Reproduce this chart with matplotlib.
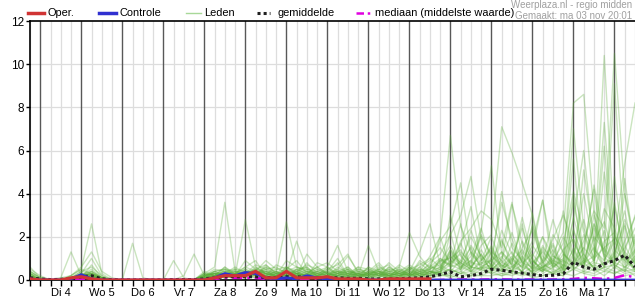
import matplotlib
matplotlib.use('Agg')
import matplotlib.pyplot as plt
from matplotlib.lines import Line2D

plt.rcParams['font.family'] = ['Liberation Sans', 'DejaVu Sans']

# 6-hourly steps, index 0 = ma 3 nov 18:00, last index = di 18 12:00
dagen = ['Di 4', 'Wo 5', 'Do 6', 'Vr 7', 'Za 8', 'Zo 9', 'Ma 10',
         'Di 11', 'Wo 12', 'Do 13', 'Vr 14', 'Za 15', 'Zo 16', 'Ma 17']
n_steps = 60

oper = [0.05, 0, 0, 0, 0.1, 0.15, 0.05, 0, 0, 0, 0, 0, 0, 0, 0, 0, 0,
        0, 0.1, 0.2, 0.2, 0.2, 0.4, 0.1, 0.1, 0.4, 0.1, 0.1, 0.1,
        0.15, 0.05, 0.05, 0.05, 0, 0, 0.05, 0.05, 0.05, 0.05, 0.05]

controle = [0.05, 0, 0, 0, 0.05, 0.25, 0.05, 0, 0, 0, 0, 0, 0, 0, 0, 0, 0,
            0, 0.1, 0.3, 0.2, 0.35, 0.3, 0.1, 0.05, 0.1, 0.05, 0.2, 0.1,
            0.05, 0, 0, 0, 0, 0, 0, 0, 0, 0, 0, 0, 0, 0, 0, 0, 0, 0, 0, 0,
            0, 0, 0, 0, 0, 0, 0, 0, 0, 0, 0]

gemiddelde = [0.1, 0.05, 0.02, 0.03, 0.08, 0.15, 0.2, 0.05, 0.02,
              0, 0, 0, 0, 0, 0.02, 0.02, 0.02,
              0.05, 0.1, 0.15, 0.15, 0.15, 0.15, 0.12, 0.1,
              0.15, 0.15, 0.12, 0.1, 0.1, 0.1, 0.08, 0.08,
              0.05, 0.05, 0.05, 0.06, 0.08, 0.1, 0.15, 0.25,
              0.38, 0.15, 0.2, 0.3, 0.5, 0.45, 0.38, 0.32,
              0.25, 0.2, 0.22, 0.28, 0.83, 0.6, 0.5, 0.75,
              0.9, 1.15, 0.6]

mediaan = [0, 0, 0, 0, 0, 0.05, 0.05, 0, 0, 0, 0, 0, 0, 0, 0, 0, 0,
           0, 0.05, 0.1, 0.1, 0.1, 0.1, 0.05, 0.05, 0.1, 0.05, 0.05, 0.05,
           0.05, 0, 0, 0, 0, 0, 0, 0, 0, 0, 0, 0, 0.02, 0.02, 0.02, 0.02,
           0.03, 0.03, 0.02, 0.02, 0.02, 0.02, 0.02, 0.03, 0.05, 0.1, 0.08,
           0.05, 0.1, 0.22, 0.12]

leden = [
    [0.6, 0.1, 0, 0, 0.1, 0.3, 0.2, 0, 0, 0, 0, 0, 0, 0, 0, 0, 0, 0.2, 0.3, 0.2, 0.1,
     0.3, 0.2, 0.1, 0, 0.3, 0.2, 0.1, 0, 0.2, 0.4, 0.1, 0, 0.1, 0, 0.2, 0, 0.1, 0.3, 0.2, 0.5,
     0.8, 1.2, 0.4, 0.9, 1.5, 0.6, 1.1, 0.3, 0.4, 1.6, 0.8, 0.5, 1.2, 2.8, 0.9, 10.4, 2.1, 0.8, 1.4],
    [0.3, 0, 0, 0.1, 0.2, 0.5, 2.6, 0.3, 0, 0, 0, 0, 0, 0, 0, 0, 0, 0.1, 0.2, 0.4, 0.3,
     0.2, 0.5, 0.3, 0.1, 0.4, 0.3, 0.2, 0.1, 0.5, 0.3, 0.6, 0.2, 0.1, 0.3, 0.1, 0.2, 0.4, 0.2, 0.6, 1.0,
     0.7, 0.5, 1.3, 0.8, 0.6, 1.1, 0.4, 1.8, 0.9, 0.5, 1.2, 2.2, 8.2, 8.6, 3.1, 1.2, 0.8, 2.5, 0.6],
    [0.2, 0, 0, 0.1, 1.3, 0.2, 0.4, 0.1, 0, 0, 0, 0, 0, 0, 0, 0, 0, 0.3, 0.6, 3.6, 0.4,
     0.2, 0.3, 0.1, 0.2, 0.1, 0.2, 0.3, 0.1, 0.2, 0.1, 0.3, 0.1, 0.4, 0.2, 0.6, 0.3, 0.2, 0.8, 0.4, 0.3,
     1.4, 0.6, 0.9, 2.1, 1.1, 0.7, 0.3, 1.5, 2.3, 0.8, 1.6, 0.4, 0.9, 1.8, 3.2, 2.4, 10.5, 4.0, 1.3],
    [0.4, 0.1, 0, 0, 0.2, 0.6, 1.3, 0.4, 0.1, 0, 0, 0, 0, 0, 0, 0, 0, 0.1, 0.4, 0.5, 0.2,
     2.8, 0.6, 0.3, 0.2, 0.5, 0.3, 0.2, 0.4, 0.3, 0.2, 0.1, 0.4, 0.3, 0.5, 0.2, 0.1, 0.6, 0.4, 1.1, 2.0,
     6.7, 2.5, 1.3, 0.6, 0.9, 0.4, 1.7, 0.8, 0.3, 0.6, 1.0, 0.5, 1.9, 0.7, 2.6, 1.1, 3.4, 1.2, 0.5],
    [0.1, 0, 0, 0, 0.1, 0.3, 1.0, 0.2, 0, 0, 1.7, 0.1, 0, 0, 0, 0, 0, 0.2, 0.3, 0.2, 0.5,
     0.4, 0.3, 0.6, 0.2, 0.3, 0.2, 0.8, 0.3, 0.2, 0.6, 0.3, 0.2, 0.1, 0.3, 0.5, 0.2, 0.3, 0.1, 0.4, 0.6,
     1.2, 0.8, 0.5, 1.6, 2.1, 7.1, 5.9, 4.5, 3.0, 0.4, 0.9, 0.3, 1.5, 0.6, 2.0, 1.4, 0.7, 1.8, 2.9],
    [0.5, 0.2, 0, 0, 0, 0.1, 0.7, 0.1, 0, 0, 0, 0, 0, 0, 0.9, 0.1, 0, 0.1, 0.2, 0.6, 0.3,
     0.5, 0.2, 0.4, 0.3, 2.7, 0.6, 0.4, 0.2, 0.6, 0.2, 0.4, 0.1, 0.3, 0.7, 0.2, 0.4, 0.2, 0.5, 0.3, 0.9,
     1.0, 1.4, 0.6, 2.3, 5.3, 1.2, 0.7, 0.4, 1.1, 2.0, 0.6, 0.9, 3.6, 1.2, 0.5, 1.8, 2.2, 0.4, 1.0],
    [0.2, 0, 0, 0, 0, 0.2, 0.3, 0.1, 0, 0, 0, 0, 0, 0, 0, 0.2, 1.2, 0.2, 0.3, 0.1, 0.2,
     0.4, 0.2, 0.5, 0.6, 0.3, 1.8, 0.5, 0.2, 0.1, 0.3, 0.2, 0.6, 0.2, 0.1, 0.4, 0.3, 0.5, 0.3, 0.8, 1.2,
     2.1, 3.0, 4.8, 1.9, 0.6, 1.3, 0.8, 2.6, 0.4, 0.9, 1.7, 0.6, 2.8, 6.0, 1.6, 0.7, 1.3, 2.6, 0.8],
    [0.1, 0, 0, 0, 0, 0.1, 0.2, 0, 0, 0, 0, 0, 0, 0, 0, 0, 0, 0, 0.1, 0.3, 0.2,
     0.9, 0.5, 0.7, 0.3, 0.2, 0.4, 0.6, 0.2, 0.4, 1.0, 0.2, 0.3, 0.2, 0.4, 0.1, 0.6, 2.2, 1.1, 0.5, 0.8,
     1.6, 0.7, 2.3, 1.0, 0.5, 1.8, 0.9, 0.6, 1.4, 3.7, 0.5, 1.2, 0.8, 1.5, 0.9, 7.3, 1.6, 3.2, 0.9],
    [0, 0, 0, 0, 0, 0.1, 0.1, 0, 0, 0, 0, 0, 0, 0, 0, 0, 0, 0.1, 0.2, 0.1, 0.3,
     0.6, 0.9, 0.2, 0.4, 0.1, 0.5, 0.3, 0.6, 0.3, 0.2, 0.5, 0.1, 0.6, 0.2, 0.3, 0.7, 0.4, 1.3, 2.6, 0.7,
     1.1, 0.5, 1.6, 0.9, 2.0, 0.8, 1.3, 0.5, 2.5, 0.7, 1.9, 3.0, 1.7, 0.9, 2.4, 1.3, 9.1, 1.6, 0.7],
    [0.3, 0.1, 0, 0, 0, 0, 0.4, 0.1, 0, 0, 0, 0, 0, 0, 0, 0, 0, 0.2, 0.1, 0.5, 0.4,
     0.3, 0.7, 0.5, 0.1, 0.4, 0.2, 1.2, 0.6, 0.8, 0.4, 0.6, 0.2, 1.6, 0.4, 0.2, 0.3, 0.1, 0.6, 0.9, 1.5,
     0.8, 1.7, 0.6, 1.2, 0.4, 1.0, 2.2, 0.8, 1.2, 0.6, 0.9, 1.7, 4.1, 2.2, 1.0, 1.5, 1.9, 5.4, 8.2],
    [0.2, 0, 0, 0, 0, 0.2, 0.5, 0.1, 0, 0, 0, 0, 0, 0, 0, 0, 0, 0.1, 0.3, 0.3, 0.1,
     0.2, 0.4, 0.9, 0.5, 0.6, 0.3, 0.2, 0.8, 0.6, 1.6, 0.4, 0.3, 0.2, 0.5, 0.7, 0.2, 0.3, 0.2, 0.4, 0.3,
     3.0, 1.1, 0.6, 0.5, 1.3, 0.9, 3.5, 1.7, 0.6, 2.0, 1.1, 0.8, 7.0, 2.4, 1.3, 0.6, 4.8, 1.1, 0.4],
    [0.1, 0, 0, 0, 0, 0.1, 0.2, 0, 0, 0, 0, 0, 0, 0, 0, 0, 0, 0.2, 0.5, 0.4, 0.3,
     0.3, 0.4, 0.2, 0.7, 0.5, 0.9, 0.3, 0.1, 0.2, 0.5, 1.1, 0.4, 0.3, 0.2, 0.5, 0.4, 0.7, 0.4, 0.2, 1.0,
     0.6, 1.8, 2.4, 3.2, 2.8, 1.5, 3.6, 1.0, 0.5, 1.4, 0.7, 2.0, 1.1, 4.0, 1.4, 0.9, 2.0, 1.3, 3.0],
    [0.4, 0.1, 0, 0, 0.1, 0.4, 0.6, 0.2, 0, 0, 0, 0, 0, 0, 0, 0, 0, 0.3, 0.2, 0.6, 0.2,
     0.4, 0.3, 0.1, 0.3, 0.2, 0.4, 0.7, 0.5, 0.3, 0.8, 0.2, 0.5, 0.4, 0.3, 0.2, 0.5, 0.2, 0.9, 0.6, 1.8,
     2.5, 4.5, 1.2, 0.7, 1.6, 0.6, 1.0, 2.4, 0.9, 0.4, 2.1, 1.3, 0.6, 5.1, 1.8, 2.7, 1.0, 4.0, 1.7],
    [0, 0, 0, 0, 0, 0.2, 0.3, 0, 0, 0, 0, 0, 0, 0, 0, 0, 0, 0.1, 0.4, 0.2, 0.3,
     0.6, 0.4, 0.3, 0.2, 0.9, 0.6, 0.4, 0.3, 0.5, 0.7, 1.2, 0.3, 0.2, 0.6, 0.4, 0.1, 0.5, 0.7, 1.0, 0.6,
     1.4, 0.9, 2.0, 1.1, 0.7, 4.1, 1.5, 0.9, 1.8, 3.7, 1.2, 0.5, 2.3, 1.0, 0.6, 5.0, 1.4, 0.9, 2.1],
    [0.2, 0, 0, 0, 0, 0.1, 0.3, 0.1, 0, 0, 0, 0, 0, 0, 0, 0, 0, 0.4, 0.2, 0.3, 0.6,
     0.3, 0.5, 0.4, 0.1, 0.6, 0.3, 0.5, 0.4, 0.2, 0.4, 0.3, 0.6, 0.5, 0.3, 0.8, 0.4, 0.6, 0.3, 0.5, 0.9,
     0.7, 1.3, 0.8, 2.0, 1.2, 0.5, 0.9, 1.4, 0.8, 1.3, 0.7, 3.2, 1.0, 0.6, 2.6, 1.5, 0.8, 4.7, 1.1],
    [0.1, 0, 0, 0, 0, 0.2, 0.4, 0.1, 0, 0, 0, 0, 0, 0, 0, 0, 0, 0.1, 0.2, 0.2, 0.1,
     0.3, 0.1, 0.2, 0.4, 0.2, 0.5, 0.3, 0.2, 0.4, 0.1, 0.2, 0.3, 0.5, 0.2, 0.1, 0.4, 0.3, 0.6, 0.2, 0.4,
     0.9, 0.6, 1.1, 2.4, 0.8, 1.9, 0.6, 1.0, 3.1, 0.8, 1.4, 0.6, 2.9, 1.2, 4.4, 1.9, 0.6, 1.1, 0.5],
    [0.3, 0, 0, 0, 0.2, 0.5, 0.3, 0.1, 0, 0, 0, 0, 0, 0, 0, 0, 0, 0.2, 0.4, 0.5, 0.3,
     0.2, 0.3, 0.5, 0.3, 0.4, 0.2, 0.3, 0.6, 0.3, 0.5, 0.2, 0.1, 0.4, 0.8, 0.3, 0.2, 0.6, 0.2, 0.3, 0.5,
     1.3, 0.8, 0.5, 1.4, 0.6, 2.3, 1.2, 0.7, 1.6, 0.9, 2.8, 1.2, 0.7, 1.5, 4.2, 0.9, 1.8, 0.7, 1.3],
    [0, 0, 0, 0, 0, 0.1, 0.2, 0, 0, 0, 0, 0, 0, 0, 0, 0, 0, 0.3, 0.2, 0.4, 0.5,
     0.2, 0.6, 0.3, 0.2, 0.3, 0.4, 0.2, 0.3, 0.2, 0.3, 0.4, 0.2, 0.3, 0.1, 0.6, 0.3, 0.2, 0.4, 0.7, 0.3,
     0.5, 1.6, 3.4, 0.9, 1.4, 0.5, 0.8, 0.4, 2.6, 1.1, 0.6, 1.0, 5.6, 0.8, 1.1, 3.3, 2.4, 1.0, 0.6],
    [0.2, 0, 0, 0, 0, 0.3, 0.2, 0.1, 0, 0, 0, 0, 0, 0, 0, 0, 0, 0.2, 0.3, 0.3, 0.2,
     0.5, 0.3, 0.4, 0.2, 0.6, 0.4, 0.2, 0.5, 0.3, 0.4, 0.2, 0.5, 0.3, 0.4, 0.3, 0.2, 0.4, 0.2, 0.5, 0.7,
     0.4, 0.9, 0.6, 0.5, 1.0, 3.6, 1.9, 0.8, 0.6, 1.5, 0.9, 0.7, 3.9, 0.8, 1.5, 0.6, 1.2, 2.8, 1.6],
    [0.1, 0, 0, 0, 0, 0, 0.2, 0, 0, 0, 0, 0, 0, 0, 0, 0, 0, 0.1, 0.3, 0.2, 0.4,
     0.3, 0.2, 0.6, 0.4, 0.2, 0.3, 0.4, 0.2, 0.3, 0.2, 0.3, 0.4, 0.2, 0.3, 0.2, 0.5, 0.3, 0.5, 0.4, 0.2,
     2.2, 0.4, 0.8, 0.7, 0.5, 0.9, 0.4, 1.3, 0.7, 0.4, 1.1, 0.9, 0.6, 2.1, 0.8, 6.2, 0.9, 1.5, 2.4],
    [0.3, 0, 0, 0, 0, 0.1, 0.3, 0.1, 0, 0, 0, 0, 0, 0, 0, 0, 0, 0.2, 0.1, 0.3, 0.2,
     0.4, 0.2, 0.3, 0.5, 0.4, 0.6, 0.5, 0.3, 0.1, 0.3, 0.5, 0.2, 0.6, 0.4, 0.3, 0.2, 0.1, 0.3, 0.6, 0.5,
     1.1, 0.7, 0.4, 0.8, 0.9, 1.3, 0.7, 2.9, 1.0, 0.3, 0.6, 1.4, 1.9, 0.7, 3.0, 1.1, 0.5, 1.3, 0.8],
    [0, 0, 0, 0, 0, 0.2, 0.1, 0, 0, 0, 0, 0, 0, 0, 0, 0, 0, 0.2, 0.3, 0.4, 0.2,
     0.3, 0.5, 0.2, 0.3, 0.5, 0.2, 0.4, 0.3, 0.4, 0.3, 0.1, 0.3, 0.2, 0.5, 0.4, 0.3, 0.5, 0.2, 0.3, 0.6,
     0.3, 0.5, 0.9, 0.4, 0.6, 0.4, 1.0, 0.6, 0.4, 0.7, 0.5, 0.3, 1.1, 0.6, 0.9, 2.3, 0.7, 0.4, 1.9],
    [0.2, 0, 0, 0, 0, 0.1, 0.2, 0.1, 0, 0, 0, 0, 0, 0, 0, 0, 0, 0.1, 0.2, 0.3, 0.4,
     0.2, 0.3, 0.2, 0.4, 0.1, 0.3, 0.2, 0.4, 0.6, 0.3, 0.2, 0.1, 0.3, 0.2, 0.4, 0.6, 0.2, 0.4, 0.3, 0.4,
     0.5, 0.3, 0.6, 1.2, 0.4, 0.7, 0.5, 0.9, 0.3, 0.6, 0.8, 0.4, 0.7, 1.2, 0.5, 0.8, 3.6, 0.9, 0.5],
    [0.1, 0, 0, 0, 0, 0.2, 0.3, 0, 0, 0, 0, 0, 0, 0, 0, 0, 0, 0.3, 0.2, 0.1, 0.3,
     0.2, 0.4, 0.3, 0.2, 0.3, 0.5, 0.6, 0.2, 0.3, 0.2, 0.4, 0.3, 0.1, 0.4, 0.2, 0.3, 0.4, 0.3, 0.2, 0.4,
     0.7, 2.6, 0.3, 0.6, 0.5, 0.8, 0.6, 0.4, 0.9, 0.5, 0.3, 0.7, 0.5, 0.9, 0.6, 0.4, 0.8, 0.6, 1.1],
    [0.4, 0.1, 0, 0, 0, 0.2, 0.1, 0, 0, 0, 0, 0, 0, 0, 0, 0, 0, 0.2, 0.4, 0.2, 0.1,
     0.2, 0.3, 0.4, 0.2, 0.2, 0.3, 0.1, 0.3, 0.2, 0.4, 0.3, 0.2, 0.4, 0.3, 0.2, 0.1, 0.3, 0.1, 0.4, 0.2,
     0.3, 0.6, 0.4, 0.3, 0.5, 0.3, 0.4, 0.7, 0.4, 0.6, 0.3, 0.5, 0.6, 0.4, 0.7, 0.5, 0.3, 0.6, 0.4],
    [0, 0, 0, 0, 0, 0.1, 0.2, 0, 0, 0, 0, 0, 0, 0, 0, 0, 0, 0.1, 0.2, 0.3, 0.2,
     0.1, 0.2, 0.3, 0.1, 0.2, 0.1, 0.3, 0.2, 0.1, 0.2, 0.1, 0.2, 0.2, 0.1, 0.3, 0.2, 0.1, 0.2, 0.1, 0.3,
     0.2, 0.4, 0.2, 0.5, 0.3, 0.2, 0.4, 0.3, 0.2, 0.5, 0.3, 0.2, 2.4, 0.3, 0.5, 0.2, 0.6, 0.3, 0.4],
    [0.2, 0, 0, 0, 0, 0.3, 0.2, 0.1, 0, 0, 0, 0, 0, 0, 0, 0, 0, 0.2, 0.1, 0.2, 0.3,
     0.1, 0.3, 0.2, 0.1, 0.3, 0.2, 0.1, 0.2, 0.3, 0.1, 0.2, 0.1, 0.2, 0.3, 0.1, 0.2, 0.3, 0.1, 0.2, 0.3,
     0.1, 0.3, 0.2, 0.2, 0.4, 0.2, 0.3, 0.2, 0.3, 0.2, 0.4, 0.3, 0.2, 0.4, 0.3, 0.6, 0.4, 0.2, 0.3],
    [0.1, 0, 0, 0, 0, 0.2, 0.1, 0, 0, 0, 0, 0, 0, 0, 0, 0, 0, 0.1, 0.1, 0.2, 0.1,
     0.2, 0.1, 0.1, 0.2, 0.1, 0.2, 0.2, 0.1, 0.2, 0.2, 0.1, 0.3, 0.1, 0.2, 0.2, 0.1, 0.2, 0.3, 0.1, 0.2,
     0.2, 0.1, 0.3, 0.2, 0.2, 0.3, 0.2, 0.4, 0.1, 0.2, 0.3, 0.2, 0.5, 0.3, 0.2, 0.4, 0.3, 0.5, 0.2],
    [0.3, 0, 0, 0, 0.1, 0.4, 0.3, 0.1, 0, 0, 0, 0, 0, 0, 0, 0, 0, 0.2, 0.3, 0.1, 0.2,
     0.3, 0.2, 0.7, 0.3, 0.2, 0.3, 0.2, 0.4, 0.2, 0.3, 0.5, 0.2, 0.3, 0.4, 0.2, 0.3, 0.2, 0.4, 0.5, 2.0,
     0.6, 0.8, 1.5, 0.5, 0.7, 0.4, 0.6, 1.1, 0.5, 0.8, 0.4, 0.6, 1.4, 0.5, 0.8, 0.7, 1.1, 0.6, 0.9],
    [0.1, 0, 0, 0, 0, 0.1, 0.2, 0, 0, 0, 0, 0, 0, 0, 0, 0, 0, 0.1, 0.2, 0.3, 0.2,
     0.4, 0.2, 0.1, 0.3, 0.2, 0.3, 0.2, 0.2, 0.1, 0.2, 0.3, 0.2, 0.3, 0.2, 0.1, 0.4, 0.2, 0.3, 0.4, 0.3,
     0.5, 0.3, 0.4, 0.6, 0.3, 0.5, 0.4, 0.3, 0.6, 0.4, 0.7, 0.3, 0.5, 0.8, 0.4, 0.6, 0.7, 0.4, 0.5],
]

stappen = list(range(n_steps))

fig = plt.figure(figsize=(6.35, 3.0), dpi=100)
ax = fig.add_axes([30 / 635, 20 / 300, 605 / 635, 259 / 300])

# grid: light every 6 hours, dark at midnight
for i in stappen:
    kleur = '#585858' if i % 4 == 1 else '#dddddd'
    ax.axvline(i, color=kleur, lw=1.0 if i % 4 == 1 else 0.9, zorder=0.5)
for y in range(2, 12, 2):
    ax.axhline(y, color='#dddddd', lw=0.9, zorder=0.4)

for lid in leden:
    ax.plot(stappen, lid, color='#5cae3a', alpha=0.32, lw=1.0, zorder=1)

ax.plot(stappen, mediaan, color='#e000e0', lw=1.8, linestyle=(0, (4, 2, 1, 2)), zorder=3)
ax.plot(stappen, gemiddelde, color='#202020', lw=2.2, linestyle=(0, (1, 1)), zorder=4)
ax.plot(stappen, controle, color='#3030d0', lw=2.0, zorder=5)
ax.plot(range(len(oper)), oper, color='#d03434', lw=2.3, zorder=6)

ax.set_xlim(0, n_steps - 1)
ax.set_ylim(0, 12)

xlabels = [''] * n_steps
for k, d in enumerate(dagen):
    xlabels[3 + 4 * k] = d
ax.set_xticks(stappen)
ax.set_xticklabels(xlabels, fontsize=8)
ax.set_yticks(range(0, 13, 2))
ax.set_yticklabels([str(v) for v in range(0, 13, 2)], fontsize=8.5)
ax.tick_params(axis='x', length=4, width=1, pad=2)
ax.tick_params(axis='y', length=3, width=1, pad=1)

for s in ['left', 'bottom', 'top']:
    ax.spines[s].set_linewidth(1.2)
ax.spines['right'].set_visible(False)

# legend row at the top
legenda = [
    (28, 44, 48, 'Oper.', dict(color='#d03434', lw=2.5)),
    (99, 116, 119, 'Controle', dict(color='#3030d0', lw=2.5)),
    (186, 201, 204, 'Leden', dict(color='#a8d898', lw=1.0)),
    (257, 270, 277, 'gemiddelde', dict(color='#202020', lw=2.2, linestyle=(0, (1, 1)))),
    (356, 371, 375, 'mediaan (middelste waarde)', dict(color='#e000e0', lw=1.8, linestyle=(0, (3, 1.5, 1, 1.5)))),
]
ly = 1 - 13 / 300
for x0, x1, xt, tekst, stijl in legenda:
    fig.add_artist(Line2D([x0 / 635, x1 / 635], [ly, ly], transform=fig.transFigure, **stijl))
    fig.text(xt / 635, ly, tekst, fontsize=7.9, va='center', ha='left')

fig.text(632 / 635, 1 - 5 / 300, 'Weerplaza.nl - regio midden', fontsize=7,
         color='#a0a0a0', ha='right', va='center')
fig.text(632 / 635, 1 - 16 / 300, 'Gemaakt: ma 03 nov 20:01', fontsize=7,
         color='#a0a0a0', ha='right', va='center')

fig.savefig('out.png', dpi=100)
